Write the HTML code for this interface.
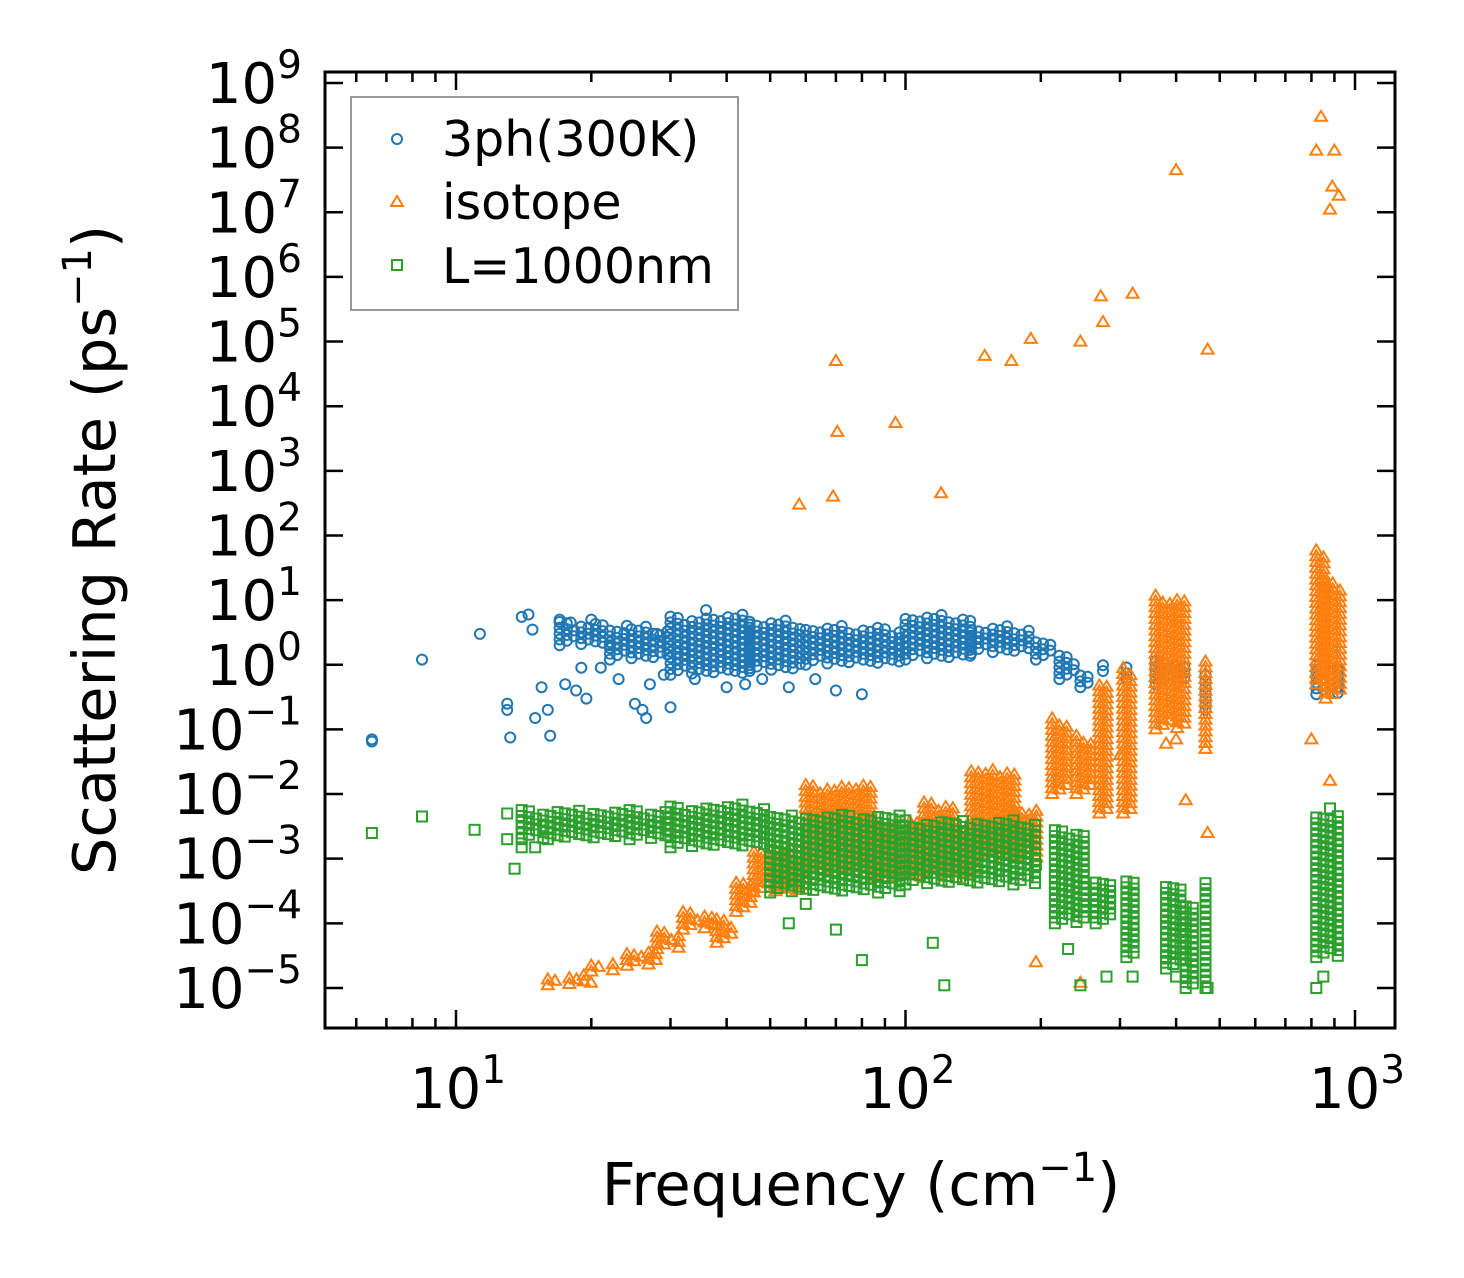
<!DOCTYPE html>
<html><head><meta charset="utf-8"><style>
html,body{margin:0;padding:0;background:#fff}
svg{display:block;font-family:"DejaVu Sans","Liberation Sans",sans-serif}
</style></head><body>
<svg id="chart" width="1464" height="1278" viewBox="0 0 1464 1278" xmlns="http://www.w3.org/2000/svg">
<rect width="1464" height="1278" fill="#fff"/>
<g id="marks"></g>
<g id="axes"></g>
<g>
<rect x="351" y="97" width="387" height="213" fill="#fff" fill-opacity="0.8" stroke="#999" stroke-width="2"/>
<circle cx="397" cy="139" r="5" fill="none" stroke="#1f77b4" stroke-width="2"/>
<text x="442" y="156" font-size="49">3ph(300K)</text>
<path d="M397,196 L403,206 L391,206 Z" fill="none" stroke="#ff7f0e" stroke-width="2"/>
<text x="442" y="219" font-size="49">isotope</text>
<rect x="392" y="260" width="10" height="10" fill="none" stroke="#2ca02c" stroke-width="2"/>
<text x="442" y="283" font-size="49">L=1000nm</text>
</g>
<text x="861" y="1205" font-size="59" text-anchor="middle">Frequency (cm<tspan dy="-24" font-size="40">−1</tspan><tspan dy="24">)</tspan></text>
<text transform="translate(115,550) rotate(-90)" font-size="59" text-anchor="middle">Scattering Rate (ps<tspan dy="-24" font-size="40">−1</tspan><tspan dy="24">)</tspan></text>
</svg>
<script>
// ---- data ----
const xTicks=[1,2,3];
const yTicks=[9,8,7,6,5,4,3,2,1,0,-1,-2,-3,-4,-5];
const phFreq=[6.5,6.5,8.4,11.3,13,13,13.2,14,14.5,14.8,15,15.5,16,16.2,17,17.5,18,18.5,19,19.5,20,21,22,23,24,25,26,26.5,27,28,29,30,31,34,36,40,44,48,55,63,70,80];
const phRate=[0.07,0.065,1.2,3,0.25,0.2,0.075,5.5,6,3.5,0.15,0.45,0.2,0.08,5,0.5,4.5,0.4,0.9,0.3,5,0.9,2,0.6,4,0.25,0.2,0.15,0.5,3,0.7,0.22,1.5,0.6,7,0.45,0.5,0.6,0.45,0.6,0.4,0.35];
const phBandF0=[17,22,30,45,60,100,140,195,220,245,275,310,360,465,820];
const phBandF1=[22,30,45,60,100,140,190,215,245,260,285,320,430,480,950];
const phBandLo=[2,1.2,0.7,0.8,1,1.2,1.5,1.2,0.6,0.45,0.8,0.6,0.5,0.2,0.35];
const phBandHi=[5,4,6,5,4,6,4,2.5,1.5,0.8,1.2,1,1.2,0.8,1];
const isoFreq=[58,69,70,70.5,95,120,150,172,190,245,272,275,320,400,470,840,820,900,890,880,920,195,245,420,470,800,880,300,380,400];
const isoRate=[300,400,50000,4000,5500,450,60000,50000,110000,100000,500000,200000,550000,45000000,75000,3e8,9e7,9e7,2.5e7,1.1e7,1.8e7,2.5e-5,1.2e-5,8e-3,2.5e-3,0.07,0.016,0.04,0.06,0.07];
const isoBandF0=[16,20,24,28,32,38,42,46,60,85,110,130,140,175,212,240,270,305,360,465,820,860];
const isoBandF1=[20,24,28,32,38,42,46,60,85,110,130,140,175,200,230,262,282,320,430,480,860,950];
const isoBandLo=[1.1e-5,1.8e-5,2.2e-5,4e-5,8e-5,5e-5,1.5e-4,3e-4,5e-4,5e-4,5e-4,5e-4,1e-3,1e-3,1e-2,1e-2,5e-3,5e-3,0.1,0.05,0.5,0.3];
const isoBandHi=[1.6e-5,2.5e-5,4e-5,8e-5,1.6e-4,1.2e-4,5e-4,1.5e-3,1.5e-2,4e-3,8e-3,3e-3,2.5e-2,6e-3,1.5e-1,8e-2,5e-1,0.9,12,1.2,60,20];
const bdFreq=[6.5,8.4,11,13,13,13.5,14,15,16,55,60,70,80,115,122,195,230,245,280,320,400,470,820,850,880];
const bdRate=[2.5e-3,4.5e-3,2.8e-3,5e-3,2e-3,7e-4,1.5e-3,1.5e-3,2e-3,1e-4,2e-4,8e-5,2.7e-5,5e-5,1.1e-5,8e-4,4e-5,1.1e-5,1.5e-5,1.5e-5,1.5e-5,1e-5,1e-5,1.5e-5,6e-3];
const bdBandF0=[14,30,50,100,215,265,310,380,420,465,820];
const bdBandF1=[30,50,100,200,250,290,330,420,440,480,950];
const bdBandLo=[2e-3,1.5e-3,3e-4,4e-4,1e-4,1e-4,3e-5,2e-5,1e-5,1e-5,3e-5];
const bdBandHi=[6e-3,7e-3,5e-3,4e-3,3e-3,5e-4,5e-4,4e-4,2e-4,5e-4,5e-3];

// ---- scales ----
const X0=325,X1=1395,Y0=72,Y1=1028;
function xs(f){return 456+(Math.log10(f)-1)*449.5;}
function ys(v){return 83+(9-Math.log10(v))*64.64;}
const NS='http://www.w3.org/2000/svg';
const marks=document.getElementById('marks');
const axes=document.getElementById('axes');

function marker(kind,x,y,g){
  let e;
  if(kind==='c'){e=document.createElementNS(NS,'circle');e.setAttribute('cx',x.toFixed(1));e.setAttribute('cy',y.toFixed(1));e.setAttribute('r',5);e.setAttribute('stroke','#1f77b4');}
  else if(kind==='t'){e=document.createElementNS(NS,'path');e.setAttribute('d',`M${x.toFixed(1)},${(y-6).toFixed(1)} l6,10 l-12,0 Z`);e.setAttribute('stroke','#ff7f0e');}
  else {e=document.createElementNS(NS,'rect');e.setAttribute('x',(x-5).toFixed(1));e.setAttribute('y',(y-5).toFixed(1));e.setAttribute('width',10);e.setAttribute('height',10);e.setAttribute('stroke','#2ca02c');}
  e.setAttribute('fill','none');e.setAttribute('stroke-width','2');
  g.appendChild(e);
}
function series(name,kind,fr,rt,f0,f1,lo,hi){
  const g=document.createElementNS(NS,'g');
  
  
  marks.appendChild(g);
  for(let b=0;b<f0.length;b++){
    const a=Math.log10(f0[b]),z=Math.log10(f1[b]);
    const l=Math.log10(lo[b]),h=Math.log10(hi[b]);
    let col=0;
    for(let lf=a;lf<=z+1e-9;lf+=0.016,col++){
      const off=(col%3)*0.03;
      const trim=((col*7)%5)*0.02;
      for(let lv=l+off+trim;lv<=h-trim+1e-9;lv+=0.09){
        marker(kind,xs(Math.pow(10,lf)),ys(Math.pow(10,lv)),g);
      }
    }
  }
  for(let i=0;i<fr.length;i++) marker(kind,xs(fr[i]),ys(rt[i]),g);
}
series('series-3ph','c',phFreq,phRate,phBandF0,phBandF1,phBandLo,phBandHi);
series('series-isotope','t',isoFreq,isoRate,isoBandF0,isoBandF1,isoBandLo,isoBandHi);
series('series-boundary','s',bdFreq,bdRate,bdBandF0,bdBandF1,bdBandLo,bdBandHi);

// ---- axes ----
function line(x1,y1,x2,y2,w,name){
  const e=document.createElementNS(NS,'line');
  e.setAttribute('x1',x1);e.setAttribute('y1',y1);e.setAttribute('x2',x2);e.setAttribute('y2',y2);
  e.setAttribute('stroke','#000');e.setAttribute('stroke-width',w);
  
  
  axes.appendChild(e);
}
const frame=document.createElementNS(NS,'rect');
frame.setAttribute('x',X0);frame.setAttribute('y',Y0);frame.setAttribute('width',X1-X0);frame.setAttribute('height',Y1-Y0);
frame.setAttribute('fill','none');frame.setAttribute('stroke','#000');frame.setAttribute('stroke-width','3');


axes.appendChild(frame);
function label(x,y,exp,anchor,name){
  const t=document.createElementNS(NS,'text');
  t.setAttribute('x',x);t.setAttribute('y',y);t.setAttribute('font-size','56');t.setAttribute('text-anchor',anchor);
  
  
  t.innerHTML='10<tspan dy="-25" font-size="39">'+(exp<0?'−'+(-exp):exp)+'</tspan>';
  axes.appendChild(t);
}
for(let d=0;d<=3;d++){
  for(let m=1;m<10;m++){
    const f=Math.pow(10,d)*m; const x=xs(f);
    if(x<X0||x>X1) continue;
    const L=(m===1)?18:10;
    line(x,Y1,x,Y1-L,2.5,'x-tick');
    line(x,Y0,x,Y0+L,2.5,'x-tick-top');
  }
}
xTicks.forEach(e=>label(xs(Math.pow(10,e))+2,1108,e,'middle','x-tick-label'));
yTicks.forEach(e=>{
  const y=ys(Math.pow(10,e));
  line(X0,y,X0+18,y,2.5,'y-tick');
  line(X1,y,X1-18,y,2.5,'y-tick-right');
  label(302,y+20,e,'end','y-tick-label');
});
</script>
</body></html>
